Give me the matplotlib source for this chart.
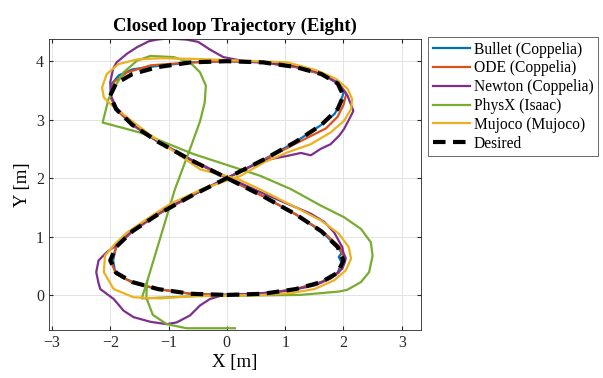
import matplotlib.pyplot as plt

# desired figure-eight
des_x = [0, 0.62, 1.18, 1.62, 1.90, 2.00, 1.90, 1.62, 1.18, 0.62, 0, -0.62, -1.18, -1.62, -1.90, -2.00,
         -1.90, -1.62, -1.18, -0.62, 0, 0.62, 1.18, 1.62, 1.90, 2.00, 1.90, 1.62, 1.18, 0.62, 0,
         -0.62, -1.18, -1.62, -1.90, -2.00, -1.90, -1.62, -1.18, -0.62, 0]
des_y = [0, 0.02, 0.10, 0.22, 0.38, 0.59, 0.82, 1.09, 1.38, 1.69, 2.00, 2.31, 2.62, 2.91, 3.18, 3.41,
         3.62, 3.78, 3.90, 3.98, 4.00, 3.98, 3.90, 3.78, 3.62, 3.41, 3.18, 2.91, 2.62, 2.31, 2.00,
         1.69, 1.38, 1.09, 0.82, 0.59, 0.38, 0.22, 0.10, 0.02, 0]

bullet_x = [0, 0.62, 1.18, 1.62, 1.90, 1.97, 1.92, 1.97, 1.90, 1.62, 1.18, 0.62, 0, -0.62, -1.18, -1.62,
            -1.90, -2.00, -1.97, -1.85, -1.62, -1.18, -0.62, 0, 0.62, 1.18, 1.62, 1.90, 2.00, 1.93, 1.85,
            1.62, 1.18, 0.62, 0, -0.62, -1.18, -1.62, -1.90, -1.95, -1.92, -1.80, -1.50, -1.18, -0.62, 0]
bullet_y = [0, 0.02, 0.10, 0.22, 0.38, 0.55, 0.65, 0.72, 0.82, 1.09, 1.38, 1.69, 2.00, 2.31, 2.62, 2.91,
            3.18, 3.41, 3.62, 3.76, 3.86, 3.92, 3.98, 4.00, 3.98, 3.90, 3.78, 3.62, 3.45, 3.25, 3.10,
            2.91, 2.62, 2.31, 2.00, 1.69, 1.38, 1.09, 0.82, 0.59, 0.42, 0.30, 0.18, 0.10, 0.02, 0]

ode_x = [0, 0.62, 1.18, 1.62, 1.92, 2.02, 1.94, 1.64, 1.18, 0.62, 0, -0.62, -1.18, -1.62, -1.90, -2.00,
         -1.93, -1.71, -1.30, -0.62, 0, 0.62, 1.18, 1.62, 1.92, 2.05, 2.00, 1.90, 1.70, 1.20, 0.62, 0,
         -0.62, -1.18, -1.62, -1.90, -1.98, -1.90, -1.62, -1.18, -0.62, 0]
ode_y = [0, 0.02, 0.10, 0.22, 0.38, 0.59, 0.82, 1.09, 1.38, 1.69, 2.00, 2.31, 2.62, 2.91, 3.18, 3.41,
         3.65, 3.81, 3.93, 3.98, 4.00, 3.98, 3.90, 3.78, 3.62, 3.45, 3.25, 3.05, 2.85, 2.60, 2.30, 2.00,
         1.69, 1.38, 1.09, 0.82, 0.55, 0.36, 0.21, 0.10, 0.02, 0]

newton_x = [0, 0.47, 1.04, 1.50, 1.78, 1.98, 2.02, 2.04, 2.00, 1.98, 1.84, 1.67, 1.44, 1.04, 0.62, 0,
            -0.62, -1.18, -1.62, -1.89, -1.99, -2.00, -1.95, -1.89, -1.71, -1.54, -1.34, -1.20, -1.00,
            -0.86, -0.69, -0.49, -0.29, -0.06, 0.30, 0.62, 1.18, 1.62, 1.90, 2.07, 2.17, 2.10, 2.01,
            1.93, 1.78, 1.61, 1.44, 1.27, 1.04, 0.62, 0, -0.62, -1.18, -1.62, -1.94, -2.06, -2.20, -2.24,
            -2.20, -2.17, -1.94, -1.77, -1.60, -1.31, -1.03, -0.86, -0.63, -0.46, -0.29, -0.06, 0]
newton_y = [0, 0.02, 0.07, 0.16, 0.28, 0.45, 0.55, 0.63, 0.72, 0.82, 1.07, 1.25, 1.39, 1.56, 1.74, 2.02,
            2.32, 2.63, 2.92, 3.20, 3.41, 3.64, 3.87, 3.98, 4.13, 4.24, 4.34, 4.37, 4.39,
            4.38, 4.37, 4.33, 4.20, 4.07, 4.00, 3.98, 3.92, 3.80, 3.63, 3.41, 3.15, 3.01, 2.84,
            2.73, 2.58, 2.50, 2.39, 2.43, 2.38, 2.30, 2.00, 1.70, 1.40, 1.10, 0.82, 0.73, 0.59, 0.39,
            0.20, 0.10, -0.07, -0.27, -0.38, -0.46, -0.50, -0.47, -0.35, -0.18, -0.07, 0.0, 0]

physx_x = [0.14, -0.07, -0.69, -1.03, -1.27, -1.38, -1.37, -0.89, -0.63, -0.46, -0.38, -0.36, -0.46,
           -0.63, -0.91, -1.31, -1.54, -1.77, -1.91, -2.03, -2.13, -1.49, -0.57, 0.57, 1.10, 1.61,
           2.01, 2.30, 2.47, 2.50, 2.44, 2.30, 2.07, 1.94, 1.61, 1.25, 0.39, -0.50, -1.00, -1.46, -1.37]
physx_y = [-0.57, -0.57, -0.57, -0.50, -0.34, -0.05, 0.22, 1.81, 2.50, 2.97, 3.29, 3.58, 3.81,
           3.98, 4.07, 4.09, 4.01, 3.81, 3.58, 3.35, 2.95, 2.78, 2.41, 2.04, 1.81, 1.53,
           1.33, 1.13, 0.90, 0.67, 0.39, 0.22, 0.09, 0.06, 0.03, 0.0, -0.01, -0.02, -0.04, -0.06, 0.22]

mujoco_x = [0, 0.60, 1.10, 1.50, 1.84, 2.04, 2.13, 2.09, 1.92, 1.62, 1.18, 0.62, 0.20, -0.46, -0.97,
            -1.37, -1.71, -2.00, -2.11, -2.14, -2.06, -1.86, -1.54, -1.14, -0.57, 0, 0.50, 1.04, 1.55,
            1.87, 2.07, 2.15, 2.13, 2.01, 1.78, 1.44, 1.04, 0.64, 0.24, -0.40, -0.97, -1.37, -1.71,
            -1.94, -2.09, -2.11, -1.94, -1.60, -1.14, -0.57, 0]
mujoco_y = [-0.01, 0.0, 0.03, 0.10, 0.25, 0.42, 0.62, 0.82, 1.05, 1.27, 1.50, 1.78, 1.98, 2.15, 2.50,
            2.78, 3.04, 3.27, 3.38, 3.55, 3.78, 3.95, 4.03, 4.05, 4.04, 4.02, 4.00, 3.98, 3.84,
            3.70, 3.53, 3.35, 3.18, 2.98, 2.78, 2.58, 2.44, 2.27, 2.04, 1.82, 1.56, 1.30, 1.07,
            0.85, 0.67, 0.39, 0.10, -0.04, -0.06, -0.02, -0.01]

labels = ['Bullet (Coppelia)', 'ODE (Coppelia)', 'Newton (Coppelia)', 'PhysX (Isaac)',
          'Mujoco (Mujoco)', 'Desired']
colors = ['#0072BD', '#D95319', '#7E2F8E', '#77AC30', '#EDB120']

plt.rcParams['font.family'] = ['Liberation Serif', 'DejaVu Serif']

fig = plt.figure(figsize=(6.03, 3.78), dpi=100)
ax = fig.add_axes([49 / 603, 1 - 330 / 378, 372 / 603, 291 / 378])

series = [(bullet_x, bullet_y), (ode_x, ode_y), (newton_x, newton_y), (physx_x, physx_y), (mujoco_x, mujoco_y)]
for (sx, sy), c, lab in zip(series, colors, labels):
    ax.plot(sx, sy, color=c, lw=1.6, label=lab)
ax.plot(des_x, des_y, color='black', lw=3, ls=(0, (3, 1.8)), label=labels[-1])

ax.set_xlim(-3.05, 3.33)
ax.set_ylim(-0.60, 4.38)
ax.set_xticks([-3, -2, -1, 0, 1, 2, 3])
ax.set_yticks([0, 1, 2, 3, 4])
ax.grid(True, color='#e3e3e3', lw=0.7)
ax.set_axisbelow(True)
ax.tick_params(direction='in', top=True, right=True, length=3, labelsize=11.5, colors='#262626')
for s in ax.spines.values():
    s.set_color('#262626')
    s.set_linewidth(0.6)

ax.set_title('Closed loop Trajectory (Eight)', fontsize=13.5, fontweight='bold', pad=6)
ax.set_xlabel('X [m]', fontsize=13.5, labelpad=2)
ax.set_ylabel('Y [m]', fontsize=13.5, labelpad=4)

leg = ax.legend(loc='upper left', bbox_to_anchor=(428 / 603, 1 - 37 / 378), bbox_transform=fig.transFigure,
                fontsize=11.2, frameon=True, fancybox=False, handlelength=2.4, handletextpad=0.25,
                labelspacing=0.18, borderpad=0.3, borderaxespad=0)
leg.get_frame().set_edgecolor('#262626')
leg.get_frame().set_linewidth(0.6)

fig.savefig('out.png', dpi=100)
